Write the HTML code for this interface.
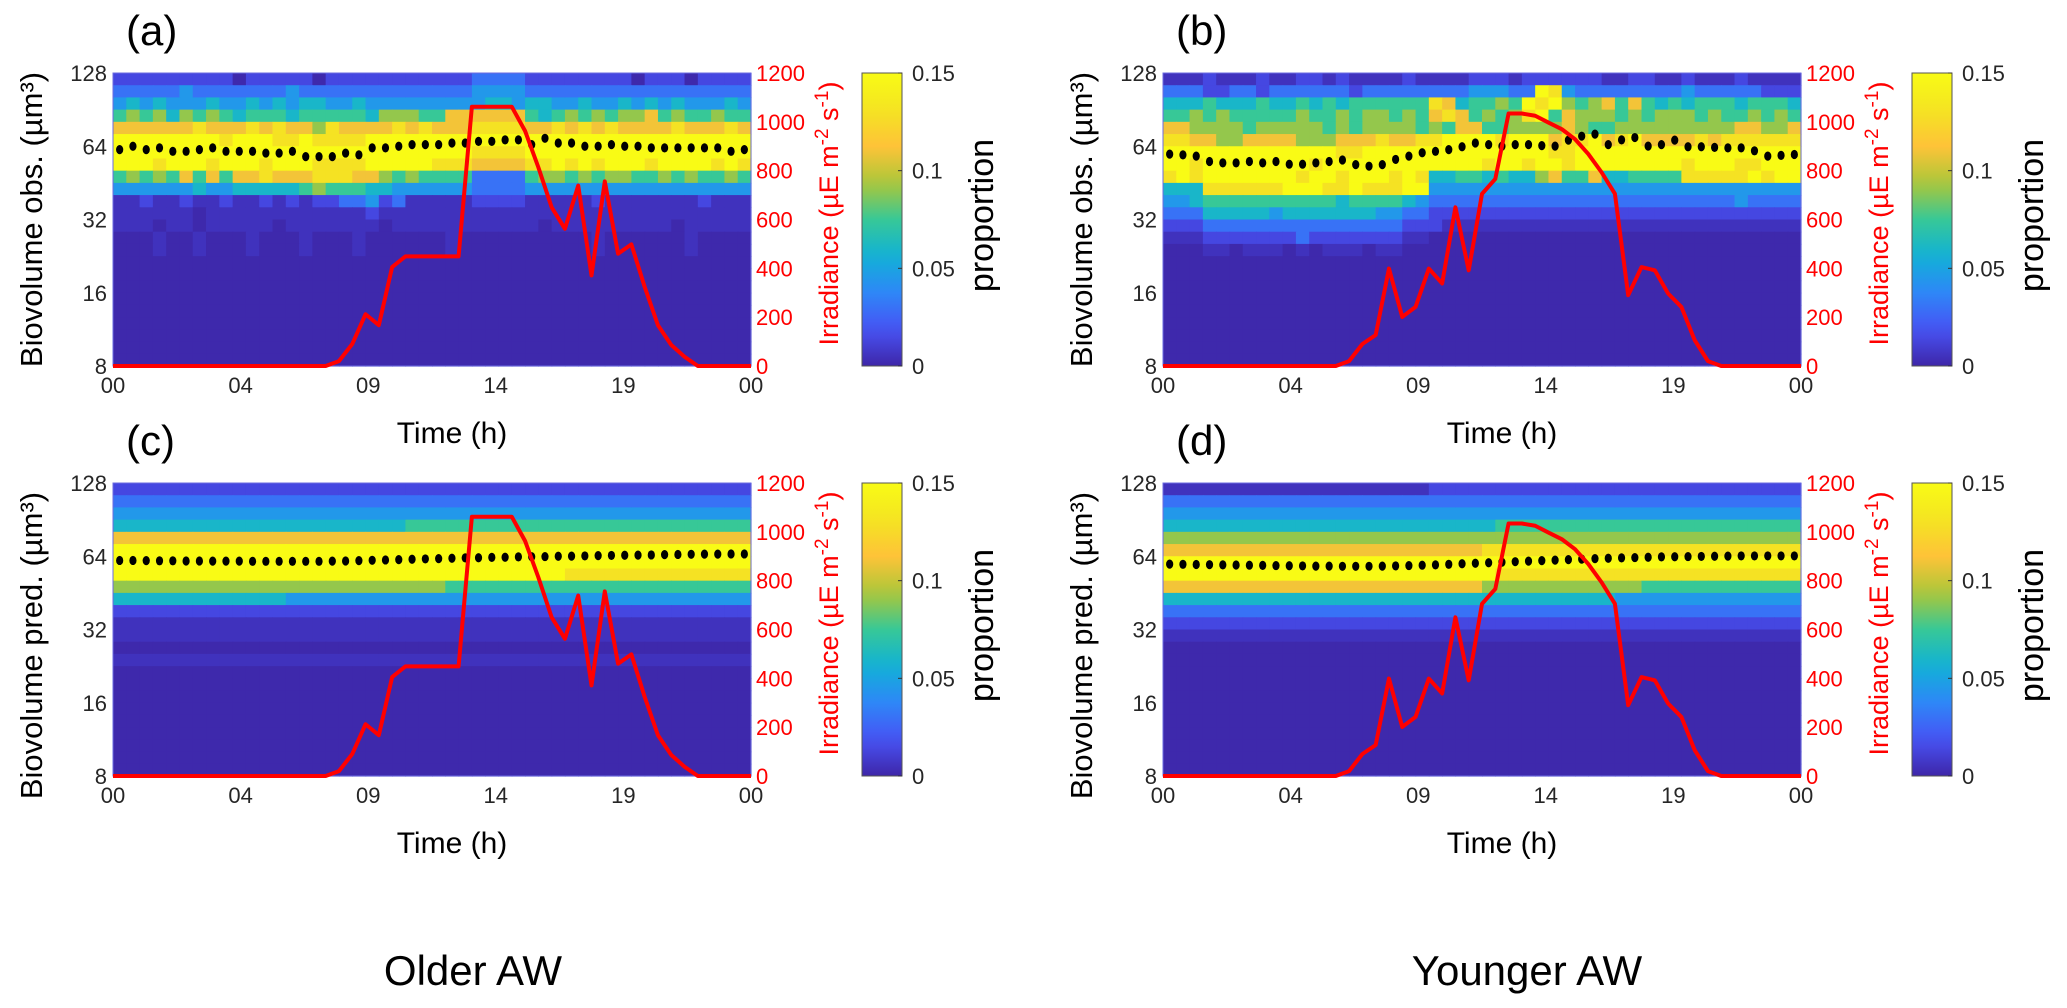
<!DOCTYPE html>
<html><head><meta charset="utf-8"><style>
html,body{margin:0;padding:0;background:#fff}
svg{display:block}
text{font-family:"Liberation Sans","DejaVu Sans",sans-serif}
</style></head><body>
<svg id="fig" width="2067" height="1008" viewBox="0 0 2067 1008" xmlns="http://www.w3.org/2000/svg">
<text x="473" y="985" font-size="42" text-anchor="middle" fill="#000">Older AW</text>
<text x="1527" y="985" font-size="42" text-anchor="middle" fill="#000">Younger AW</text>
</svg>
<script>
// ---- data ----
const levelValues = {"0":0.001,"a":0.005,"1":0.014,"2":0.03,"3":0.045,"4":0.06,"5":0.075,"6":0.09,"7":0.11,"8":0.13,"9":0.15};
const xTickHours = [0,4.8,9.6,14.4,19.2,24];
const xTickLabels = ["00","04","09","14","19","00"];
const yTickValues = [8,16,32,64,128];
const yTickLabels = ["8","16","32","64","128"];
const irrTickValues = [0,200,400,600,800,1000,1200];
const cbTickValues = [0,0.05,0.1,0.15];
const cbTickLabels = ["0","0.05","0.1","0.15"];
const irrHours = [0,0.5,1,1.5,2,2.5,3,3.5,4,4.5,5,5.5,6,6.5,7,7.5,8,8.5,9,9.5,10,10.5,11,11.5,12,12.5,13,13.5,14,14.5,15,15.5,16,16.5,17,17.5,18,18.5,19,19.5,20,20.5,21,21.5,22,22.5,23,23.5,24];
const irrOlder = [0,0,0,0,0,0,0,0,0,0,0,0,0,0,0,0,0,20,90,212,167,405,449,449,449,449,449,1062,1062,1062,1062,963,814,650,562,739,371,756,460,498,324,167,86,38,0,0,0,0,0];
const irrYounger = [0,0,0,0,0,0,0,0,0,0,0,0,0,0,20,90,127,399,201,242,399,338,650,392,705,766,1034,1034,1025,997,970,929,868,793,705,290,405,392,297,242,106,20,0,0,0,0,0,0,0];
const dotsA = [62,64,62,63,61,61,62,63,61,61,61,60,60,61,58,58,58,60,59,63,63,64,65,65,65,66,66,67,67,68,68,65,69,66,66,64,64,65,64,64,63,63,63,63,63,63,61,62];
const dotsB = [59.4,59,58.3,55.4,54.7,54.7,55.4,54.7,55.4,54,54,54.7,55.4,56.2,53.8,53,53.8,56.5,58.3,60.2,61,62,63.7,66,65,64,65,65,64.4,64.1,67.8,70.4,71.8,65,68,69.5,64.1,65,67.8,63.7,63.7,63.3,63,63,61.3,58.3,58.7,59.2];
const dotsC = [61.5,61.5,61.4,61.3,61.3,61.2,61.2,61.1,61.1,61.1,61,61,61,61,61,61,61.1,61.2,61.4,61.6,61.8,62,62.2,62.4,62.6,62.8,63,63.1,63.3,63.4,63.6,63.7,63.8,64,64.1,64.2,64.4,64.5,64.6,64.7,64.8,65,65.1,65.2,65.3,65.3,65.4,65.4];
const dotsD = [59.4,59.3,59.2,59.1,59,58.9,58.8,58.7,58.6,58.5,58.4,58.3,58.3,58.2,58.2,58.2,58.3,58.4,58.6,58.8,59,59.3,59.6,59.9,60.2,60.5,60.8,61.1,61.4,61.7,62,62.3,62.6,62.8,63,63.2,63.4,63.6,63.7,63.8,63.9,64,64.1,64.2,64.2,64.2,64.2,64.2];
const Z0 = "000000000000000000000000000000000000000000000000";
const heatA = [
"111111111011111011111111111222211111111011101111",
"222223222222232222222222222333322222222222222222",
"343433343343434433433333333344344334334343433343",
"565646565455545555546665577777754565656675655655",
"777777877787877687777878777888877878787777877787",
"999999998999889888899999999999999999999999999999",
"999999999999999999999999999888899999999999999999",
"999899989998999888899999888777788989899989999898",
"565657575778777888776565555222256656566556565565",
"333333433444445655544333333222233333333333333333",
"aa1aa1aa1aa1a1a1122312aaaaa1111aaaaa1aaaaaaa1aaa",
"aaaaaa0aaaaaaaaaaaa1aaaaaaaaaaaaaaaaaaaaaaaaaaaa",
"aaa0aa0aaaaa0aaaaaaa0aaaaaaaaaaa0aaaaaaaaa0aaaaa",
"000a00a000a000a000a000000a0000000000a000000a0000",
"000a00a000a000a000a000000a0000000000a000000a0000",
Z0,Z0,Z0,Z0,Z0,Z0,Z0,Z0,Z0];
const heatB = [
"aaa1aaa1aa11a1aaaa1aaaa111a111111aa11aa1aaa1aaaa",
"222112212222221222222223332298322222222322222111",
"444544454454545555558745565989656757545455545554",
"556565555565565665657875656895766656566656556565",
"776666566666565666656577556666765566666666677667",
"887766777766677787788999989997889789777787888888",
"999999999999988999999999999998899999999999999999",
"998999999998999999999999899899899999999899988999",
"898999999989989998984455454467557445555888889899",
"444888888999889888993333333333333333333333333333",
"334555555555545555432222222222222222222222232222",
"222444443444444433221111111111111111111111111111",
"111222222222222222111aaaaaaaaaaaaaaaaaaaaaaaaaaa",
"aaa111111121111111aa0000000000000000000000000000",
"000aa0aaa0a0aaa0aa000000000000000000000000000000",
Z0,Z0,Z0,Z0,Z0,Z0,Z0,Z0,Z0];
const heatC = [
"111111111111111111111111111111111111111111111111",
"222222222222222222222222222222222222222222222222",
"333333333333333333333333333333333333333333333333",
"444444444444444444444455555555555555555555555555",
"777777777777777777777777777777777777777777777777",
"999999999999999999999999999999999999999999999999",
"999999999999999999999999999999999999999999999999",
"999999999999999999999999999999999988888888888888",
"666666666666666666666666655555555555555555555555",
"444444444444433333333333333333333333333333333333",
"111111111111111111111111111111111111111111111111",
"aaaaaaaaaaaaaaaaaaaaaaaaaaaaaaaaaaaaaaaaaaaaaaaa",
"aaaaaaaaaaaaaaaaaaaaaaaaaaaaaaaaaaaaaaaaaaaaaaaa",
"000000000000000000000000000000000000000000000000",
"aaaaaaaaaaaaaaaaaaaaaaaaaaaaaaaaaaaaaaaaaaaaaaaa",
Z0,Z0,Z0,Z0,Z0,Z0,Z0,Z0,Z0];
const heatD = [
"aaaaaaaaaaaaaaaaaaaa1111111111111111111111111111",
"222222222222222222222222222222222222222222222222",
"333333333333333333333333333333333333333333333333",
"444444444444444444444444455555555555555555555555",
"666666666666666666666666666666666666666666666666",
"777777777777777777777777888888888888888888888888",
"999999999999999999999999999999999999999999999999",
"999999999999999999999999988888888888888888888888",
"777777777777777777777777666666666666555555555555",
"444444444444444444444444444444444433333333333333",
"222222222222222222222222222222222222222222222222",
"111111111111111111111111111111111111111111111111",
"aaaaaaaaaaaaaaaaaaaaaaaaaaaaaaaaaaaaaaaaaaaaaaaa",
Z0,Z0,Z0,Z0,Z0,Z0,Z0,Z0,Z0,Z0,Z0];

// ---- helpers ----
const NS = "http://www.w3.org/2000/svg";
const svg = document.getElementById("fig");
function mk(tag, attrs, parent){const e=document.createElementNS(NS,tag);for(const k in attrs)e.setAttribute(k,attrs[k]);(parent||svg).appendChild(e);return e;}
const parulaStops=[[0.2422,0.1504,0.6603],[0.2810,0.3228,0.9579],[0.1786,0.5289,0.9682],[0.0689,0.6948,0.8394],[0.2161,0.7843,0.5923],[0.6720,0.7793,0.2227],[0.9970,0.7659,0.2199],[0.9566,0.8944,0.1297],[0.9769,0.9839,0.0805]];
function parula(t){t=Math.max(0,Math.min(1,t));const p=t*8;const i=Math.min(7,Math.floor(p));const f=p-i;const a=parulaStops[i],b=parulaStops[i+1];
return "rgb("+[0,1,2].map(k=>Math.round(255*(a[k]+(b[k]-a[k])*f))).join(",")+")";}

const PW=638, PH=293, CB_MAX=0.15;
const panels=[
 {x0:113,y0:73,heat:heatA,dots:dotsA,irr:irrOlder,label:"(a)",ylab:"Biovolume obs. (µm³)",key:"a"},
 {x0:1163,y0:73,heat:heatB,dots:dotsB,irr:irrYounger,label:"(b)",ylab:"Biovolume obs. (µm³)",key:"b"},
 {x0:113,y0:483,heat:heatC,dots:dotsC,irr:irrOlder,label:"(c)",ylab:"Biovolume pred. (µm³)",key:"c"},
 {x0:1163,y0:483,heat:heatD,dots:dotsD,irr:irrYounger,label:"(d)",ylab:"Biovolume pred. (µm³)",key:"d"}];

panels.forEach(P=>{
  const g=mk("g",{});
  
  
  const xS=h=>P.x0+h/24*PW;
  const yS=v=>P.y0+(7-Math.log2(v))/4*PH;
  const irrS=v=>P.y0+PH-v/1200*PH;
  const hg=mk("g",{},g);
  
  
  const rows=P.heat.length;
  P.heat.forEach((row,r)=>{
    for(let c=0;c<row.length;c++){
      const v=levelValues[row[c]];
      const x1=xS(c*24/row.length), x2=xS((c+1)*24/row.length);
      const y1=yS(Math.pow(2,7-r*4/rows)), y2=yS(Math.pow(2,7-(r+1)*4/rows));
      const rc=mk("rect",{x:x1.toFixed(2),y:y1.toFixed(2),width:(x2-x1+0.6).toFixed(2),height:(y2-y1+0.6).toFixed(2),fill:parula(v/CB_MAX)},hg);
      
      
    }
  });
  const fr=mk("rect",{x:P.x0,y:P.y0,width:PW,height:PH,fill:"none",stroke:"#6b6be0","stroke-width":1},g);
  
  
  P.dots.forEach((d,i)=>{
    const c=mk("ellipse",{cx:xS((i+0.5)*24/P.dots.length).toFixed(2),cy:yS(d).toFixed(2),rx:3.6,ry:4.6,fill:"#000"},g);
    
    
  });
  const pts=P.irr.map((v,i)=>xS(irrHours[i]).toFixed(2)+","+irrS(v).toFixed(2)).join(" ");
  const pl=mk("polyline",{points:pts,fill:"none",stroke:"#ff0000","stroke-width":4,"stroke-linejoin":"round"},g);
  
  
  yTickValues.forEach((v,i)=>{
    const t=mk("text",{x:P.x0-6,y:(yS(v)+8).toFixed(1),"font-size":22,"text-anchor":"end",fill:"#262626"},g);
    t.textContent=yTickLabels[i];
    
    
  });
  xTickHours.forEach((h,i)=>{
    const t=mk("text",{x:xS(h).toFixed(1),y:P.y0+PH+27,"font-size":22,"text-anchor":"middle",fill:"#262626"},g);
    t.textContent=xTickLabels[i];
    
    
  });
  irrTickValues.forEach(v=>{
    const t=mk("text",{x:P.x0+PW+5,y:(irrS(v)+8).toFixed(1),"font-size":22,fill:"#ff0000"},g);
    t.textContent=String(v);
    
    
  });
  const ix=P.x0+PW+78, iy=P.y0+PH/2-6;
  const il=mk("text",{x:ix,y:iy,"font-size":27,"text-anchor":"middle",fill:"#ff0000",transform:"rotate(-90 "+ix+" "+iy+")",dy:9},g);
  
  
  il.innerHTML='Irradiance (µE m<tspan font-size="19" dy="-10">-2</tspan><tspan dy="10"> s</tspan><tspan font-size="19" dy="-10">-1</tspan><tspan dy="10">)</tspan>';
  const lx=P.x0-82, ly=P.y0+PH/2+(P.key==="c"||P.key==="d"?16:0);
  const yl=mk("text",{x:lx,y:ly,"font-size":31,"text-anchor":"middle",fill:"#000",transform:"rotate(-90 "+lx+" "+ly+")",dy:11},g);
  yl.textContent=P.ylab;
  
  
  const xl=mk("text",{x:P.x0+PW/2+20,y:P.y0+PH+77,"font-size":30,"text-anchor":"middle",fill:"#000"},g);
  xl.textContent="Time (h)";
  
  
  const pl2=mk("text",{x:P.x0+13,y:P.y0-28,"font-size":42,fill:"#000"},g);
  pl2.textContent=P.label;
  
  
  const cbx=P.x0+PW+111, cbw=40;
  const defs=mk("defs",{},g);
  const lg=mk("linearGradient",{id:"cbg"+P.key,x1:0,y1:1,x2:0,y2:0},defs);
  for(let k=0;k<=20;k++){mk("stop",{offset:(k/20),"stop-color":parula(k/20)},lg);}
  const cb=mk("rect",{x:cbx,y:P.y0,width:cbw,height:PH,fill:"url(#cbg"+P.key+")",stroke:"#555","stroke-width":1},g);
  
  
  cbTickValues.forEach((v,i)=>{
    const y=P.y0+PH-v/CB_MAX*PH;
    mk("line",{x1:cbx+cbw-4,x2:cbx+cbw,y1:y,y2:y,stroke:"#333","stroke-width":1},g);
    const t=mk("text",{x:cbx+cbw+10,y:(y+8).toFixed(1),"font-size":22,fill:"#262626"},g);
    t.textContent=cbTickLabels[i];
    
    
  });
  const px=P.x0+PW+232, py=P.y0+PH/2-4;
  const pt=mk("text",{x:px,y:py,"font-size":34,"text-anchor":"middle",fill:"#000",transform:"rotate(-90 "+px+" "+py+")",dy:10},g);
  pt.textContent="proportion";
  
  
});
</script>
</body></html>
